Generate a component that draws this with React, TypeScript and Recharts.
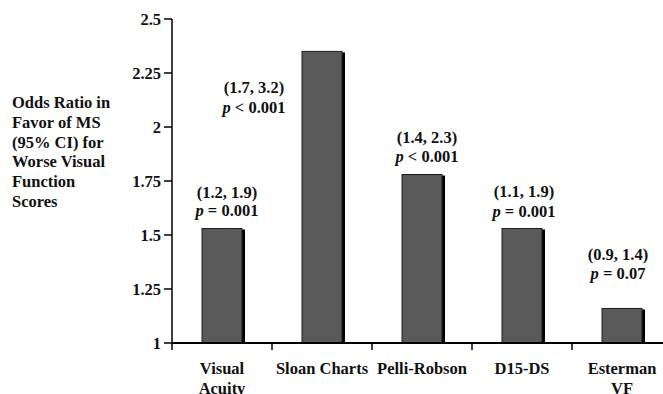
import { BarChart, Bar, XAxis, YAxis, LabelList } from "recharts";

const categories = ["Visual\nAcuity", "Sloan Charts", "Pelli-Robson", "D15-DS", "Esterman\nVF"];
const oddsRatios = [1.53, 2.35, 1.78, 1.53, 1.16];
const ciLabels = ["(1.2, 1.9)", "(1.7, 3.2)", "(1.4, 2.3)", "(1.1, 1.9)", "(0.9, 1.4)"];
const pOps = ["=", "<", "<", "=", "="];
const pValues = ["0.001", "0.001", "0.001", "0.001", "0.07"];
const yTicks = [1, 1.25, 1.5, 1.75, 2, 2.25, 2.5];
const yTitle = ["Odds Ratio in", "Favor of MS", "(95% CI) for", "Worse Visual", "Function", "Scores"];

// where each annotation sits relative to its bar (line 1 baseline vs bar top)
const labelLayout = [
  { dx: 5, dy: -31, gap: 18 },
  { dx: -68, dy: 42, gap: 20 },
  { dx: 5, dy: -32, gap: 19 },
  { dx: 2, dy: -32, gap: 20 },
  { dx: -4, dy: -48, gap: 18.5 },
];

const data = categories.map((name, i) => ({
  name,
  value: oddsRatios[i],
  ci: ciLabels[i],
  op: pOps[i],
  p: pValues[i],
}));

const FONT = "Liberation Serif, DejaVu Serif, serif";
const FS = 16.5;
const W = 680;
const H = 394;
const AXIS_Y = 343;
const LEFT = 172;
const RIGHT = 8;
const STEP = (W - LEFT - RIGHT) / categories.length;

const txt = { fontFamily: FONT, fontWeight: 700, fontSize: FS, fill: "#111" };

const ShadowBar = (props: any) => {
  const { x, y, width, height } = props;
  return (
    <g>
      <rect x={x + 3} y={y + 1} width={width} height={height - 1} fill="#000" />
      <rect x={x} y={y} width={width} height={height} fill="#5a5a5a" stroke="#1c1c1c" strokeWidth={1} />
    </g>
  );
};

const XTick = (props: any) => {
  const { x, payload } = props;
  const lines = String(payload.value).split("\n");
  return (
    <g>
      <line x1={x - STEP / 2} x2={x - STEP / 2} y1={AXIS_Y} y2={AXIS_Y + 7} stroke="#000" strokeWidth={1.5} />
      <text x={x} textAnchor="middle" style={txt}>
        {lines.map((t, i) => (
          <tspan key={i} x={x} y={AXIS_Y + 31 + i * 20}>
            {t}
          </tspan>
        ))}
      </text>
    </g>
  );
};

const Annotation = (props: any) => {
  const { x, y, width, index } = props;
  const d = data[index];
  const lay = labelLayout[index];
  const cx = x + width / 2 + lay.dx;
  const by = y + lay.dy;
  return (
    <text textAnchor="middle" style={txt}>
      <tspan x={cx} y={by}>
        {d.ci}
      </tspan>
      <tspan x={cx} y={by + lay.gap}>
        <tspan fontStyle="italic">p</tspan>
        {` ${d.op} ${d.p}`}
      </tspan>
    </text>
  );
};

const YTitle = () => (
  <text style={txt}>
    {yTitle.map((t, i) => (
      <tspan key={i} x={12} y={108 + i * 19.8}>
        {t}
      </tspan>
    ))}
  </text>
);

export default function App() {
  return (
    <div style={{ position: "absolute", left: 0, top: 0, width: 663, height: 394, overflow: "hidden", background: "#fff" }}>
      <BarChart width={W} height={H} data={data} margin={{ top: 19, right: RIGHT, bottom: 0, left: 0 }}>
        <XAxis
          dataKey="name"
          height={H - AXIS_Y}
          axisLine={{ stroke: "#000", strokeWidth: 2 }}
          tickLine={false}
          tick={<XTick />}
          interval={0}
        />
        <YAxis
          width={LEFT}
          domain={[1, 2.5]}
          ticks={yTicks}
          allowDataOverflow
          axisLine={{ stroke: "#000", strokeWidth: 1.5 }}
          tickLine={{ stroke: "#000", strokeWidth: 1.5 }}
          tickSize={8}
          tickMargin={3}
          tick={{ ...txt, style: txt }}
          label={{ content: () => <YTitle /> }}
        />
        <Bar dataKey="value" barSize={40} shape={<ShadowBar />} isAnimationActive={false}>
          <LabelList dataKey="ci" content={<Annotation />} />
        </Bar>
      </BarChart>
    </div>
  );
}
